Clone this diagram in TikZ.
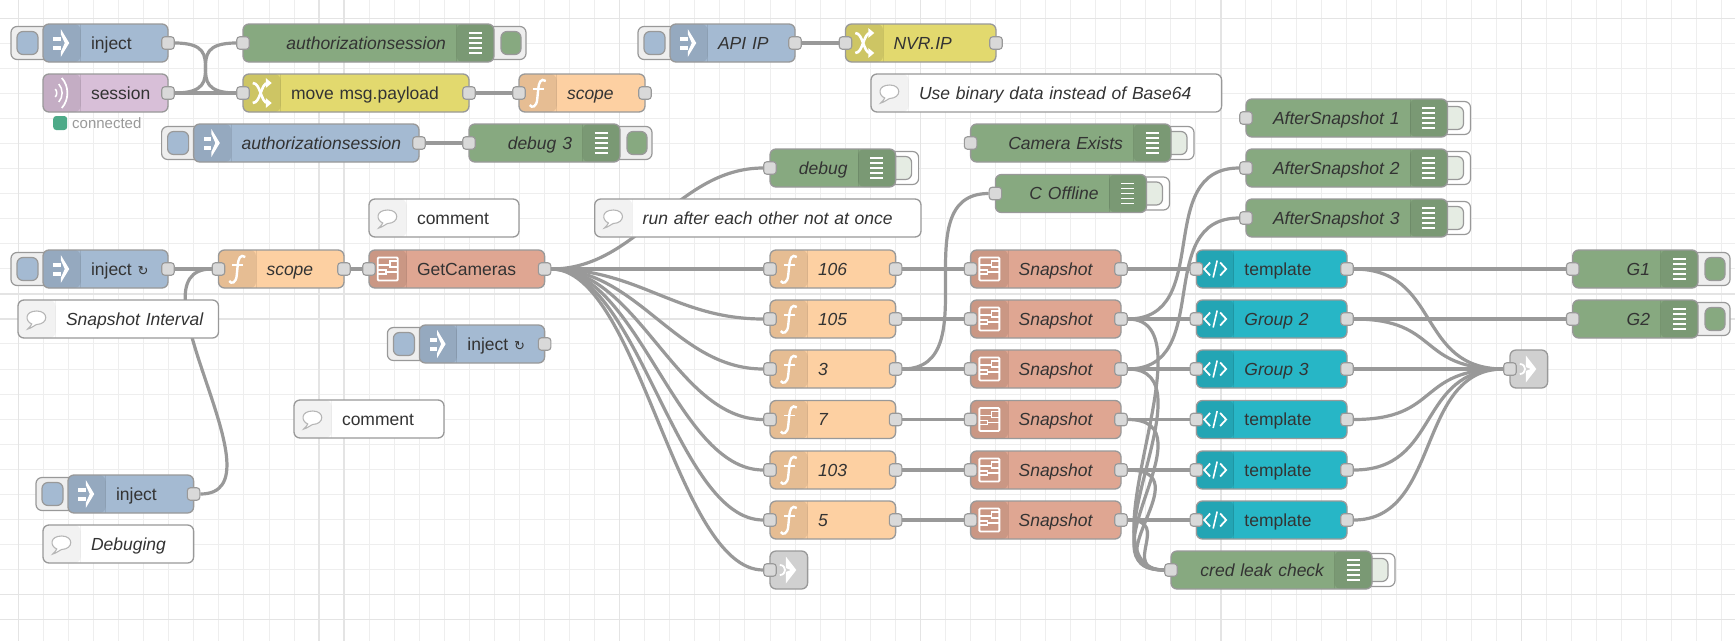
\documentclass[tikz,border=0pt]{standalone}
\usepackage{fontspec}
\setmainfont{Liberation Sans}
\newfontfamily\symbolfont{DejaVu Sans}
\usetikzlibrary{calc,backgrounds}
\definecolor{gridline}{HTML}{EEEEEE}
\definecolor{gridheavy}{HTML}{E4E4E4}
\definecolor{edge}{HTML}{999999}
\definecolor{ink}{HTML}{333333}
\definecolor{portfill}{HTML}{D9D9D9}
\definecolor{skyslate}{HTML}{A4BAD2}
\definecolor{mauve}{HTML}{D8BFD8}
\definecolor{sage}{HTML}{87A980}
\definecolor{sand}{HTML}{FDD0A2}
\definecolor{straw}{HTML}{E2D96E}
\definecolor{clay}{HTML}{DFA692}
\definecolor{lagoon}{HTML}{27B6C6}
\definecolor{stub}{HTML}{D0D0D0}
\definecolor{pale}{HTML}{E5ECE3}
\definecolor{online}{HTML}{4DAA88}
\tikzset{
  flowbox/.style={rectangle,rounded corners=6pt,draw=edge,line width=1.3pt,minimum height=38pt,
    inner sep=0pt,outer sep=0pt,text height=16pt,text depth=4pt,text=ink,
    font=\fontsize{17.5}{20}\selectfont},
  bandleft/.style={path picture={
    \fill[black,opacity=#1] (path picture bounding box.north west) rectangle ($(path picture bounding box.south west)+(37.5,0)$);
    \draw[black,opacity=#1,line width=1pt] ($(path picture bounding box.north west)+(37.5,0)$) -- ($(path picture bounding box.south west)+(37.5,0)$);}},
  bandleft/.default=0.09,
  bandright/.style={path picture={
    \fill[black,opacity=0.09] (path picture bounding box.north east) rectangle ($(path picture bounding box.south east)+(-37.5,0)$);
    \draw[black,opacity=0.09,line width=1pt] ($(path picture bounding box.north east)+(-37.5,0)$) -- ($(path picture bounding box.south east)+(-37.5,0)$);}},
  port/.style={rectangle,rounded corners=3pt,fill=portfill,draw=edge,line width=1.1pt,minimum size=12.5pt,inner sep=0pt},
  shell/.style={rounded corners=6pt,draw=edge,line width=1.2pt},
  wireline/.style={draw=edge,line width=3.2pt},
  iconinject/.pic={
    \fill[white] (-8.5,-6.5) rectangle (-1,-2.5);
    \fill[white] (-8.5,2.5) rectangle (-1,6.5);
    \fill[white] (-1,-14) -- (7.5,0) -- (-1,14) -- (-1,9) -- (3,0) -- (-1,-9) -- cycle;},
  iconwave/.pic={
    \draw[white,line width=1.7pt] (0,-15) .. controls (7.5,-7) and (7.5,7) .. (0,15);
    \draw[white,line width=1.5pt] (-3,-9) .. controls (1.5,-4) and (1.5,4) .. (-3,9);
    \draw[white,line width=1.5pt] (-6.5,-4) .. controls (-4.5,-2) and (-4.5,2) .. (-6.5,4);},
  iconfunc/.pic={
    \draw[white,line width=2.4pt] (8,-12) .. controls (3,-15.5) and (1,-10) .. (0.5,-4) -- (-0.5,6) .. controls (-1,14) and (-6,15.5) .. (-8,12);
    \draw[white,line width=1.6pt] (-5,-4) -- (6,-4);},
  iconshuffle/.pic={
    \draw[white,line width=2.6pt] (-9,-10) .. controls (-1,-10) and (-1,10) .. (6,10);
    \draw[white,line width=2.6pt] (-9,10) .. controls (-1,10) and (-1,-10) .. (6,-10);
    \fill[white] (4,-15) -- (10,-10) -- (4,-5) -- cycle;
    \fill[white] (4,15) -- (10,10) -- (4,5) -- cycle;},
  iconswitch/.pic={
    \draw[white,line width=1.8pt,rounded corners=1pt] (-10,-11.5) rectangle (10,11.5);
    \draw[white,line width=1.6pt] (-10,-4) -- (2,-4) -- (2,-8) -- (10,-8);
    \draw[white,line width=1.6pt] (2,-4) -- (2,-2) -- (10,-2);
    \draw[white,line width=1.6pt] (-10,1) -- (-2,1) -- (-2,5) -- (-10,5);
    \draw[white,line width=1.6pt] (-2,3) -- (10,3);},
  iconcode/.pic={
    \draw[white,line width=1.8pt] (-5,-6.5) -- (-11,0) -- (-5,6.5);
    \draw[white,line width=1.8pt] (5,-6.5) -- (11,0) -- (5,6.5);
    \draw[white,line width=1.6pt] (-2,8.5) -- (2,-8.5);},
  iconbubble/.pic={
    \draw[draw=gridheavy!80!black,fill=white,line width=1.1pt] (-5,5) .. controls (-12,2) and (-12,-8) .. (0,-8) .. controls (12,-8) and (12,5) .. (0,5.5) .. controls (-2,6) and (-5,9) .. (-9,10) .. controls (-7,8) and (-6,7) .. (-5,5) -- cycle;},
  iconlist/.pic={
    \foreach \ly in {-10,-5,0,5,10} {\draw[white,line width=1.5pt] (-6.5,\ly) -- (6.5,\ly);}},
  iconstub/.pic={
    \draw[white,line width=1.8pt] (-9,-5) .. controls (-2,-5) and (-2,5) .. (-9,5);
    \fill[white] (-3,-2) -- (-3,-13.5) -- (7.5,0) -- (-3,13.5) -- (-3,2) -- (2,0) -- cycle;}
}
\newcommand\flowleft[7]{%
  \node[flowbox,bandleft,fill=#5,text width={#3-#2},align=left] (#1) at ({(#2+#3)/2},#4) {\hspace*{48pt}#7};
  \pic at ($(#1.west)+(18.75,0)$) {#6};}
\newcommand\flowright[5]{%
  \node[flowbox,bandright,fill=sage,text width={#3-#2},align=right] (#1) at ({(#2+#3)/2},#4) {#5\hspace*{48pt}};
  \pic at ($(#1.east)+(-18.75,0)$) {iconlist};}
\newcommand\flowcomment[5]{%
  \node[flowbox,bandleft=0.05,fill=white,text width={#3-#2},align=left] (#1) at ({(#2+#3)/2},#4) {\hspace*{48pt}#5};
  \pic at ($(#1.west)+(18.75,0)$) {iconbubble};}
\newcommand\flowinject[5]{%
  \draw[shell,fill=gridline] ({#2-32},{#4-16.5}) rectangle ({#2+8},{#4+16.5});
  \draw[shell,fill=skyslate] ({#2-26},{#4-11.5}) rectangle ({#2-5},{#4+11.5});
  \flowleft{#1}{#2}{#3}{#4}{skyslate}{iconinject}{#5}}
\newcommand\flowdebug[5]{%
  \draw[shell,fill=gridline] ({#3-8},{#4-16.5}) rectangle ({#3+32},{#4+16.5});
  \draw[shell,fill=sage] ({#3+7},{#4-11.5}) rectangle ({#3+27},{#4+11.5});
  \flowright{#1}{#2}{#3}{#4}{#5}}
\newcommand\flowmuted[5]{%
  \draw[shell,fill=white] ({#3-8},{#4-16.5}) rectangle ({#3+23},{#4+16.5});
  \draw[shell,fill=pale] ({#3-8},{#4-11.5}) rectangle ({#3+16},{#4+11.5});
  \flowright{#1}{#2}{#3}{#4}{#5}}
\newcommand\portin[1]{\node[port] (#1-i) at (#1.west) {};}
\newcommand\portout[1]{\node[port] (#1-o) at (#1.east) {};}
\newcommand\wire[2]{\draw[wireline] let \p1=($(#2)-(#1)$),\n1={min(94pt,0.75*veclen(\x1,\y1))} in (#1) .. controls +(\n1,0) and +(-\n1,0) .. (#2);}
\begin{document}
\begin{tikzpicture}[x=1pt,y=-1pt]
  \useasboundingbox (0,0) rectangle (1735,641);
  % grid
  \begin{scope}[on background layer]
    \fill[white] (0,0) rectangle (1735,641);
    \foreach \gx in {0,...,68} {\draw[gridline,line width=1pt] ({18.5+25.05*\gx},0) -- ({18.5+25.05*\gx},641);}
    \foreach \gy in {0,...,24} {\draw[gridline,line width=1pt] (0,{18.3+25.05*\gy}) -- (1735,{18.3+25.05*\gy});}
    \foreach \gx in {0,12,13,24,36,48,60} {\draw[gridheavy,line width=1.4pt] ({18.5+25.05*\gx},0) -- ({18.5+25.05*\gx},641);}
    \foreach \gy in {0,11,12,23,24} {\draw[gridheavy,line width=1.4pt] (0,{18.3+25.05*\gy}) -- (1735,{18.3+25.05*\gy});}
  \end{scope}

  % top left group
  \flowinject{injecttop}{43}{168}{43}{inject}
  \portout{injecttop}
  \flowleft{session}{43}{168}{93}{mauve}{iconwave}{session}
  \portout{session}
  \node[rectangle,rounded corners=3pt,fill=online,minimum size=14pt,inner sep=0pt] (sessiondot) at (60.2,123) {};
  \node[anchor=west,inner sep=0pt,text=edge,font=\fontsize{15}{17}\selectfont] (sessionstate) at (72,123) {connected};
  \flowdebug{authdebug}{243}{494}{43}{\itshape authorizationsession}
  \portin{authdebug}
  \flowleft{movepayload}{243}{469}{93}{straw}{iconshuffle}{move msg.payload}
  \portin{movepayload}
  \portout{movepayload}
  \flowleft{scopetop}{519}{645}{93}{sand}{iconfunc}{\itshape scope}
  \portin{scopetop}
  \portout{scopetop}
  \flowinject{authinject}{193.6}{419}{143}{\itshape authorizationsession}
  \portout{authinject}
  \flowdebug{debugthree}{469}{620}{143}{\itshape debug 3}
  \portin{debugthree}

  % api group
  \flowinject{apiip}{670}{795}{43}{\itshape API IP}
  \portout{apiip}
  \flowleft{nvrip}{845.5}{996}{43}{straw}{iconshuffle}{\itshape NVR.IP}
  \portin{nvrip}
  \portout{nvrip}
  \flowcomment{binarynote}{871}{1221.6}{93}{\itshape Use binary data instead of Base64}

  % comments
  \flowcomment{notea}{369}{519}{218}{comment}
  \flowcomment{noteb}{594.7}{921}{218}{\itshape run after each other not at once}
  \flowcomment{intervalnote}{18}{218.5}{319}{\itshape Snapshot Interval}
  \flowcomment{notec}{294}{444}{419}{comment}
  \flowcomment{debugnote}{43}{193.6}{544}{\itshape Debuging}

  % left chain
  \flowinject{injecttick}{43}{168}{269}{inject {\symbolfont\fontsize{13}{13}\selectfont ↻}}
  \portout{injecttick}
  \flowleft{scopemain}{218.5}{344}{269}{sand}{iconfunc}{\itshape scope}
  \portin{scopemain}
  \portout{scopemain}
  \flowleft{getcameras}{369}{544.6}{269}{clay}{iconswitch}{GetCameras}
  \portin{getcameras}
  \portout{getcameras}
  \flowinject{injectspare}{419.4}{544.6}{344}{inject {\symbolfont\fontsize{13}{13}\selectfont ↻}}
  \portout{injectspare}
  \flowinject{injectlow}{68}{193.6}{494}{inject}
  \portout{injectlow}

  % debug outputs
  \flowmuted{debugcam}{770}{895.6}{168}{\itshape debug}
  \portin{debugcam}
  \flowmuted{camexists}{970.6}{1171}{143}{\itshape Camera Exists}
  \portin{camexists}
  \flowmuted{coffline}{995.4}{1146.5}{193.5}{\itshape C Offline}
  \portin{coffline}
  \flowmuted{afterone}{1246}{1447.5}{118}{\itshape AfterSnapshot 1}
  \portin{afterone}
  \flowmuted{aftertwo}{1246}{1447.5}{168}{\itshape AfterSnapshot 2}
  \portin{aftertwo}
  \flowmuted{afterthree}{1246}{1447.5}{218}{\itshape AfterSnapshot 3}
  \portin{afterthree}
  \flowmuted{credcheck}{1171}{1372}{570}{\itshape cred leak check}
  \portin{credcheck}
  \flowdebug{groupone}{1572.7}{1698}{269}{\itshape G1}
  \portin{groupone}
  \flowdebug{grouptwo}{1572.7}{1698}{319}{\itshape G2}
  \portin{grouptwo}

  % camera rows
  \flowleft{cam106}{770}{895.6}{269}{sand}{iconfunc}{\itshape 106}
  \portin{cam106}
  \portout{cam106}
  \flowleft{cam105}{770}{895.6}{319}{sand}{iconfunc}{\itshape 105}
  \portin{cam105}
  \portout{cam105}
  \flowleft{cam3}{770}{895.6}{369}{sand}{iconfunc}{\itshape 3}
  \portin{cam3}
  \portout{cam3}
  \flowleft{cam7}{770}{895.6}{419.5}{sand}{iconfunc}{\itshape 7}
  \portin{cam7}
  \portout{cam7}
  \flowleft{cam103}{770}{895.6}{470}{sand}{iconfunc}{\itshape 103}
  \portin{cam103}
  \portout{cam103}
  \flowleft{cam5}{770}{895.6}{520}{sand}{iconfunc}{\itshape 5}
  \portin{cam5}
  \portout{cam5}
  \flowleft{shota}{970.6}{1121}{269}{clay}{iconswitch}{\itshape Snapshot}
  \portin{shota}
  \portout{shota}
  \flowleft{shotb}{970.6}{1121}{319}{clay}{iconswitch}{\itshape Snapshot}
  \portin{shotb}
  \portout{shotb}
  \flowleft{shotc}{970.6}{1121}{369}{clay}{iconswitch}{\itshape Snapshot}
  \portin{shotc}
  \portout{shotc}
  \flowleft{shotd}{970.6}{1121}{419.5}{clay}{iconswitch}{\itshape Snapshot}
  \portin{shotd}
  \portout{shotd}
  \flowleft{shote}{970.6}{1121}{470}{clay}{iconswitch}{\itshape Snapshot}
  \portin{shote}
  \portout{shote}
  \flowleft{shotf}{970.6}{1121}{520}{clay}{iconswitch}{\itshape Snapshot}
  \portin{shotf}
  \portout{shotf}
  \flowleft{tpla}{1196.4}{1347}{269}{lagoon}{iconcode}{template}
  \portin{tpla}
  \portout{tpla}
  \flowleft{tplb}{1196.4}{1347}{319}{lagoon}{iconcode}{\itshape Group 2}
  \portin{tplb}
  \portout{tplb}
  \flowleft{tplc}{1196.4}{1347}{369}{lagoon}{iconcode}{\itshape Group 3}
  \portin{tplc}
  \portout{tplc}
  \flowleft{tpld}{1196.4}{1347}{419.5}{lagoon}{iconcode}{template}
  \portin{tpld}
  \portout{tpld}
  \flowleft{tple}{1196.4}{1347}{470}{lagoon}{iconcode}{template}
  \portin{tple}
  \portout{tple}
  \flowleft{tplf}{1196.4}{1347}{520}{lagoon}{iconcode}{template}
  \portin{tplf}
  \portout{tplf}

  % junctions
  \node[flowbox,fill=stub,minimum width=37.6pt] (stubcam) at (788.8,570) {};
  \pic at (stubcam.center) {iconstub};
  \portin{stubcam}
  \node[flowbox,fill=stub,minimum width=37.6pt] (stubgroup) at (1528.8,369) {};
  \pic at (stubgroup.center) {iconstub};
  \portin{stubgroup}

  % wires
  \begin{scope}[on background layer]
    \wire{injecttop-o}{movepayload-i}
    \wire{session-o}{movepayload-i}
    \wire{session-o}{authdebug-i}
    \wire{movepayload-o}{scopetop-i}
    \wire{authinject-o}{debugthree-i}
    \wire{apiip-o}{nvrip-i}
    \wire{injecttick-o}{scopemain-i}
    \wire{injectlow-o}{scopemain-i}
    \wire{scopemain-o}{getcameras-i}
    \wire{getcameras-o}{debugcam-i}
    \wire{getcameras-o}{cam106-i}
    \wire{getcameras-o}{cam105-i}
    \wire{getcameras-o}{cam3-i}
    \wire{getcameras-o}{cam7-i}
    \wire{getcameras-o}{cam103-i}
    \wire{getcameras-o}{cam5-i}
    \wire{getcameras-o}{stubcam-i}
    \wire{cam106-o}{shota-i}
    \wire{cam105-o}{shotb-i}
    \wire{cam3-o}{shotc-i}
    \wire{cam3-o}{coffline-i}
    \wire{cam7-o}{shotd-i}
    \wire{cam103-o}{shote-i}
    \wire{cam5-o}{shotf-i}
    \wire{shota-o}{tpla-i}
    \wire{shotb-o}{tplb-i}
    \wire{shotb-o}{aftertwo-i}
    \wire{shotb-o}{credcheck-i}
    \wire{shotc-o}{tplc-i}
    \wire{shotc-o}{afterthree-i}
    \wire{shotc-o}{credcheck-i}
    \wire{shotd-o}{tpld-i}
    \wire{shotd-o}{credcheck-i}
    \wire{shote-o}{tple-i}
    \wire{shote-o}{credcheck-i}
    \wire{shotf-o}{tplf-i}
    \wire{shotf-o}{credcheck-i}
    \wire{tpla-o}{groupone-i}
    \wire{tpla-o}{stubgroup-i}
    \wire{tplb-o}{grouptwo-i}
    \wire{tplb-o}{stubgroup-i}
    \wire{tplc-o}{stubgroup-i}
    \wire{tpld-o}{stubgroup-i}
    \wire{tple-o}{stubgroup-i}
    \wire{tplf-o}{stubgroup-i}
  \end{scope}
\end{tikzpicture}
\end{document}
